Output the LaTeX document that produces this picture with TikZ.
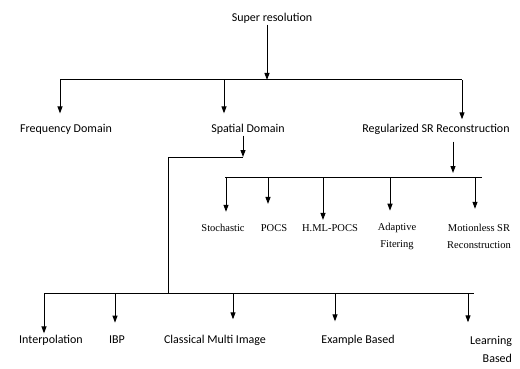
\documentclass[tikz,border=0pt]{standalone}
\usepackage{fontspec}
\setmainfont{Liberation Serif}
\newfontfamily\carlito{Carlito}
\usepackage{tikz}
\usetikzlibrary{arrows.meta}
\usetikzlibrary{calc}

\tikzset{
  sans/.style={font=\carlito\fontsize{12}{14}\selectfont, inner sep=1pt},
  serif/.style={font=\fontsize{10.5}{17}\selectfont, inner sep=1pt, align=center},
  arr/.style={-{Triangle[length=7pt,width=5pt]}},
  every path/.style={line width=1pt}
}

\begin{document}
\begin{tikzpicture}[x=1pt,y=-1pt]
\useasboundingbox (0,0) rectangle (520,369);

% top level
\node[sans] (sr) at (272,18) {Super resolution};
\node[sans] (freq) at (66,129) {Frequency Domain};
\node[sans] (spat) at (248,129) {Spatial Domain};
\node[sans] (reg) at (436,129) {Regularized SR Reconstruction};

\coordinate (top-t) at (267,80);
\coordinate (busA-l) at (60,80);
\coordinate (busA-m) at (224,80);
\coordinate (busA-r) at (462,80);

\draw[arr] (sr.south -| top-t) -- (top-t);
\draw (busA-l) -- (busA-r);
\draw[arr, shorten >=9pt] (busA-l) -- (freq.north -| busA-l);
\draw[arr, shorten >=9pt] (busA-m) -- (spat.north -| busA-m);
\draw[arr, shorten >=3pt] (busA-r) -- (reg.north -| busA-r);

% regularized branch
\node[serif] (stoch) at (223,228) {Stochastic};
\node[serif] (pocs) at (274,228) {POCS};
\node[serif] (hml) at (330,228) {H.ML-POCS};
\node[serif] (adapt) at (397,236.5) {Adaptive\\Fitering};
\node[serif] (motion) at (479,236.5) {Motionless SR\\Reconstruction};

\coordinate (reg-t) at (453,173);
\coordinate (busB-l) at (225,177);
\coordinate (busB-r) at (482,177);

\draw[arr, shorten <=6pt] (reg.south -| reg-t) -- (reg-t);
\draw (busB-l) -- (busB-r);
\draw[arr, shorten >=11pt] (226,177) -- (stoch.north -| 226,0);
\draw[arr, shorten >=19pt] (268,177) -- (pocs.north -| 268,0);
\draw[arr, shorten >=3pt] (323,177) -- (hml.north -| 323,0);
\draw[arr, shorten >=11pt] (390,177) -- (adapt.north -| 390,0);
\draw[arr, shorten >=14pt] (475,177) -- (motion.north -| 475,0);

% spatial branch
\node[sans] (interp) at (51,340) {Interpolation};
\node[sans] (ibp) at (117,340) {IBP};
\node[sans] (cmi) at (215,340) {Classical Multi Image};
\node[sans, align=right] (learn) at (491,349) {Learning\\[4pt]Based};
\node[sans] (ex) at (358,340) {Example Based};

\coordinate (sp-t) at (243,157);
\coordinate (sp-knee) at (168,157);
\coordinate (busC-m) at (168,293);
\coordinate (busC-l) at (44,293);
\coordinate (busC-r) at (474,293);

\draw[arr] (spat.south -| sp-t) -- (sp-t);
\draw (sp-t) -- (sp-knee) -- (busC-m);
\draw (busC-l) -- (busC-r);
\draw[arr] (busC-l) -- (interp.north -| busC-l);
\draw[arr, shorten >=12pt] (115,293) -- (ibp.north -| 115,0);
\draw[arr, shorten >=14pt] (233,293) -- (cmi.north -| 233,0);
\draw[arr, shorten >=12pt] (335,293) -- (ex.north -| 335,0);
\draw[arr, shorten >=12pt] (468,293) -- (learn.north -| 468,0);

\end{tikzpicture}
\end{document}
